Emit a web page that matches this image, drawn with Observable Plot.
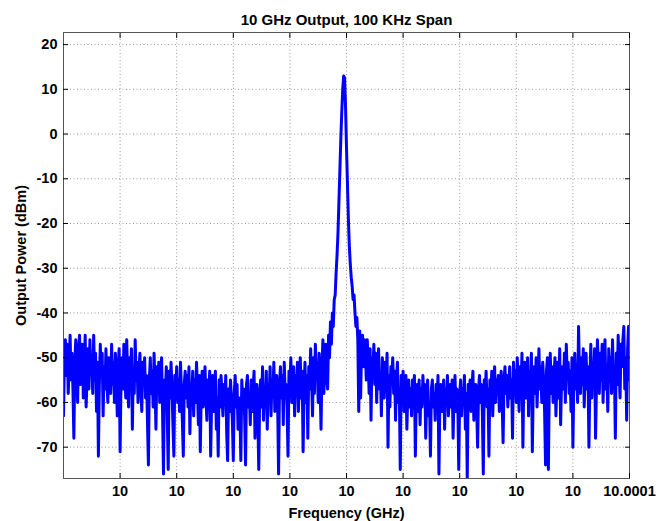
<!DOCTYPE html>
<html><head><meta charset="utf-8">
<script src="https://cdn.jsdelivr.net/npm/d3@7"></script>
<script src="https://cdn.jsdelivr.net/npm/@observablehq/plot@0.6"></script>
<style>body{margin:0;background:#fff} svg{display:block}</style>
</head><body><div id="chart"></div>
<script>
const titleText = "10 GHz Output, 100 KHz Span";
const xLabel = "Frequency (GHz)";
const yLabel = "Output Power (dBm)";
const freqStart = 10.0;          // GHz, left edge of span
const freqStep = 0.0001 / 600;   // GHz between samples
const power = [
  -63, -50, -46, -54, -47, -58, -52, -45, -55, -49,
  -57, -68, -51, -46, -53, -60, -48, -45, -56, -50,
  -47, -59, -52, -45, -61, -54, -48, -57, -46, -53,
  -50, -58, -45, -55, -49, -62, -51, -72, -56, -47,
  -54, -49, -63, -52, -57, -48, -55, -60, -50, -53,
  -58, -47, -56, -51, -60, -49, -54, -63, -52, -48,
  -71, -55, -50, -57, -47, -53, -59, -46, -54, -61,
  -50, -56, -48, -66, -52, -58, -46, -55, -51, -60,
  -53, -49, -57, -62, -51, -56, -50, -59, -54, -64,
  -74, -55, -50, -58, -53, -61, -49, -56, -66, -52,
  -57, -51, -60, -54, -50, -62, -76, -55, -58, -52,
  -63, -75, -53, -59, -51, -57, -65, -72, -54, -58,
  -52, -60, -55, -62, -51, -57, -64, -72, -56, -53,
  -59, -54, -61, -52, -67, -56, -58, -53, -63, -55,
  -60, -51, -57, -65, -54, -71, -58, -53, -61, -56,
  -52, -59, -64, -55, -58, -53, -72, -60, -54, -62,
  -57, -53, -66, -59, -72, -55, -61, -54, -58, -63,
  -56, -60, -54, -67, -73, -57, -62, -55, -59, -64,
  -73, -58, -54, -61, -56, -66, -59, -62, -73, -55,
  -60, -57, -63, -74, -56, -54, -61, -58, -65, -55,
  -62, -57, -53, -68, -59, -56, -63, -75, -58, -55,
  -61, -52, -64, -57, -60, -53, -66, -56, -59, -52,
  -63, -55, -58, -51, -62, -57, -54, -60, -76, -56,
  -52, -59, -54, -65, -51, -58, -56, -61, -72, -53,
  -57, -50, -60, -55, -52, -63, -54, -58, -51, -62,
  -56, -50, -59, -53, -71, -57, -51, -60, -54, -68,
  -52, -57, -48, -55, -63, -50, -58, -47, -54, -51,
  -60, -49, -56, -66, -52, -46, -58, -50, -47, -55,
  -57, -45, -50, -42, -47, -40, -43, -37, -36, -31,
  -27, -22, -15, -8, -1, 5, 10, 13, 12.5, 6,
  -3, -11, -19, -25, -29, -32, -34, -37, -36, -40,
  -43, -41, -46, -62, -44, -59, -47, -45, -52, -46,
  -49, -55, -46, -51, -58, -48, -64, -50, -53, -47,
  -56, -49, -60, -52, -48, -57, -54, -63, -50, -55,
  -59, -51, -57, -49, -70, -54, -61, -52, -56, -50,
  -58, -53, -64, -55, -51, -60, -57, -75, -54, -59,
  -53, -62, -56, -54, -66, -58, -55, -61, -57, -63,
  -55, -60, -54, -72, -58, -56, -62, -55, -65, -57,
  -61, -54, -59, -56, -68, -58, -55, -63, -60, -72,
  -57, -55, -61, -58, -64, -56, -60, -54, -76, -59,
  -56, -62, -58, -55, -66, -57, -60, -54, -63, -59,
  -56, -61, -55, -68, -58, -54, -62, -57, -60, -75,
  -58, -55, -63, -57, -60, -54, -66, -58, -77, -56,
  -60, -55, -62, -57, -53, -64, -58, -56, -61, -70,
  -57, -54, -60, -56, -62, -76, -55, -58, -53, -61,
  -57, -72, -55, -59, -53, -63, -56, -52, -60, -55,
  -58, -54, -62, -56, -53, -60, -69, -55, -52, -58,
  -54, -61, -56, -52, -59, -55, -68, -51, -57, -53,
  -60, -50, -55, -62, -52, -58, -49, -70, -54, -51,
  -59, -55, -50, -63, -53, -57, -49, -71, -56, -52,
  -58, -50, -61, -54, -48, -57, -52, -60, -51, -55,
  -62, -74, -53, -50, -75, -56, -49, -58, -52, -60,
  -54, -50, -63, -56, -51, -59, -48, -65, -55, -52,
  -57, -49, -60, -47, -54, -51, -58, -53, -62, -50,
  -70, -55, -49, -57, -52, -60, -43, -54, -58, -50,
  -56, -48, -61, -53, -49, -57, -52, -70, -55, -47,
  -59, -51, -54, -48, -68, -56, -46, -52, -58, -49,
  -55, -47, -60, -51, -46, -57, -53, -62, -48, -54,
  -50, -58, -46, -55, -52, -68, -49, -56, -45, -53,
  -59, -47, -52, -46, -43, -57, -50, -64, -48, -43,
  -55
];
const xTicks = [10.00001, 10.00002, 10.00003, 10.00004, 10.00005, 10.00006, 10.00007, 10.00008, 10.00009, 10.0001];
const xTickLabels = ["10", "10", "10", "10", "10", "10", "10", "10", "10", "10.0001"];
const yTicks = [-70, -60, -50, -40, -30, -20, -10, 0, 10, 20];

const data = power.map((p, i) => ({f: freqStart + i * freqStep, p}));
const font = "'Liberation Sans', Arial, sans-serif";
const gridStyle = {stroke: "#9a9a9a", strokeOpacity: 1, strokeDasharray: "1,2.5"};

const chart = Plot.plot({
  width: 672, height: 521,
  marginLeft: 63, marginRight: 43, marginTop: 32, marginBottom: 43,
  style: {fontFamily: font, fontSize: "14.5px", fontWeight: "bold", background: "white", color: "#000"},
  x: {domain: [10.0, 10.0001]},
  y: {domain: [-77, 22.7]},
  marks: [
    Plot.gridX(xTicks, gridStyle),
    Plot.gridY(yTicks, gridStyle),
    Plot.line(data, {x: "f", y: "p", stroke: "#0000ff", strokeWidth: 3, clip: true}),
    Plot.frame({stroke: "#555"}),
    Plot.axisX(xTicks, {tickSize: 0, tickPadding: 7, tickFormat: d => xTickLabels[xTicks.indexOf(d)],
      label: xLabel, labelAnchor: "center", labelArrow: "none", labelOffset: 39}),
    Plot.axisX(xTicks, {tickSize: 5, dy: -5, fill: "none", label: null}),
    Plot.axisX(xTicks, {anchor: "top", tickSize: 5, dy: 5, fill: "none", label: null}),
    Plot.axisY(yTicks, {tickSize: 0, tickPadding: 6, tickFormat: d => String(d),
      label: yLabel, labelAnchor: "center", labelArrow: "none", labelOffset: 48}),
    Plot.axisY(yTicks, {tickSize: 5, dx: 5, fill: "none", label: null}),
    Plot.axisY(yTicks, {anchor: "right", tickSize: 5, dx: -5, fill: "none", label: null}),
    Plot.text([titleText], {frameAnchor: "top", dy: -18, text: d => d, fontSize: 15, fontWeight: "bold"})
  ]
});
document.getElementById("chart").appendChild(chart);
</script>
</body></html>
